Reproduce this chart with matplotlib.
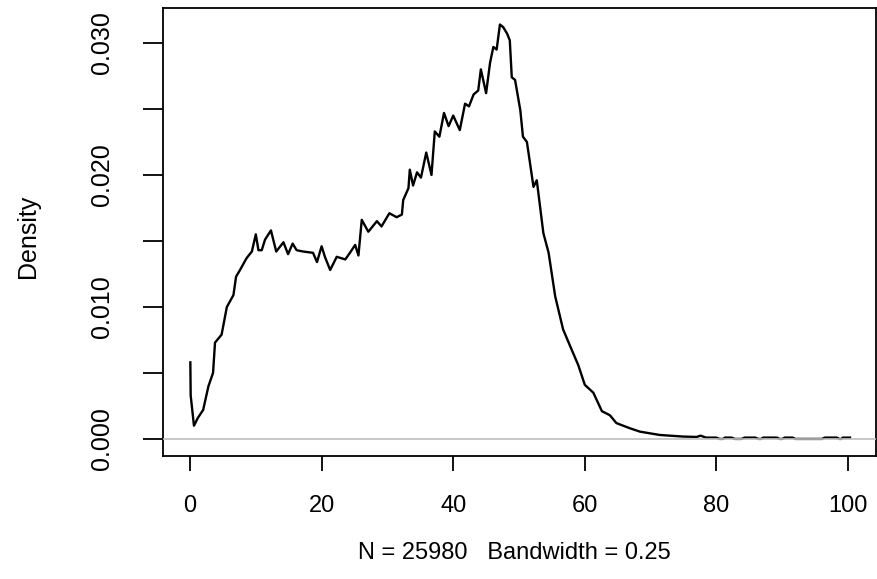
import numpy as np
import matplotlib
matplotlib.use("Agg")
from matplotlib import pyplot as plt

# density curve (x in data units, y = density)
xVals = [0.05, 0.1, 0.6, 1.2, 2.0, 2.8, 3.5, 3.8, 4.8, 5.6, 6.6, 7.0, 7.6, 8.6, 9.4,
         10.0, 10.4, 10.9, 11.4, 12.3, 13.1, 14.2, 14.9, 15.6, 16.2, 17.2, 18.7, 19.3,
         20.0, 20.5, 21.3, 22.3, 23.6, 24.3, 25.1, 25.6, 26.1, 27.1, 28.4, 29.1, 30.3,
         31.4, 32.2, 32.4, 33.2, 33.4, 33.9, 34.5, 35.1, 35.9, 36.7, 37.2, 37.9, 38.6,
         39.3, 40.0, 41.0, 41.8, 42.4, 43.1, 43.8, 44.2, 45.0, 45.6, 46.1, 46.6, 47.1,
         47.6, 48.2, 48.6, 48.9, 49.4, 50.2, 50.6, 51.2, 52.2, 52.7, 53.7, 54.5, 55.5,
         56.7, 57.8, 59.0, 60.0, 61.3, 62.6, 63.8, 64.8, 66.9, 68.4, 71.4, 74.9, 77.0]
densVals = [0.0058, 0.0033, 0.0010, 0.0016, 0.0022, 0.0040, 0.0050, 0.0073, 0.0079, 0.0100,
            0.0109, 0.0123, 0.0128, 0.0137, 0.0142, 0.0155, 0.0143, 0.0143, 0.0151, 0.0158,
            0.0142, 0.0149, 0.0140, 0.0148, 0.0143, 0.0142, 0.0141, 0.0134, 0.0146, 0.0138,
            0.0128, 0.0138, 0.0136, 0.0141, 0.0147, 0.0139, 0.0166, 0.0157, 0.0165, 0.0161,
            0.0171, 0.0168, 0.0170, 0.0181, 0.0190, 0.0204, 0.0192, 0.0202, 0.0198, 0.0217,
            0.0200, 0.0233, 0.0229, 0.0247, 0.0237, 0.0245, 0.0234, 0.0254, 0.0252, 0.0261,
            0.0264, 0.0280, 0.0262, 0.0285, 0.0297, 0.0295, 0.0314, 0.0312, 0.0307, 0.0302,
            0.0274, 0.0272, 0.0249, 0.0229, 0.0225, 0.0191, 0.0196, 0.0156, 0.0141, 0.0108,
            0.0083, 0.0070, 0.0056, 0.0041, 0.0035, 0.0021, 0.0018, 0.0012, 0.0008, 0.00055,
            0.0003, 0.00018, 0.00015]
# tail: tiny values (dashes) that come and go under the grey zero line
tailX = [77.6, 78.4, 80.0, 80.5, 81.0, 81.3, 82.3, 82.8, 83.8, 84.3, 85.9, 86.4, 86.8,
         87.1, 89.2, 89.6, 90.0, 90.4, 91.6, 92.0, 96.0, 96.5, 98.3, 98.7, 99.0, 99.2, 100.3]
tailY = [0.00025, 0.0001, 0.0001, 0.0, 0.0, 0.0001, 0.0001, 0.0, 0.0, 0.0001, 0.0001, 0.0,
         0.0, 0.0001, 0.0001, 0.0, 0.0, 0.0001, 0.0001, 0.0, 0.0, 0.0001, 0.0001, 0.0, 0.0,
         0.0001, 0.0001]

xTicks = [0, 20, 40, 60, 80, 100]
yTicks = [0.000, 0.005, 0.010, 0.015, 0.020, 0.025, 0.030]
yTickLabels = ["0.000", "", "0.010", "", "0.020", "", "0.030"]
subTitle = "N = 25980   Bandwidth = 0.25"

plt.rcParams['font.family'] = ['Liberation Sans', 'DejaVu Sans']
fsX = 17
fsY = 18

fig = plt.figure(figsize=(8.77, 5.79), dpi=100)
ax = fig.add_axes([0.1859, 0.2116, 0.8130, 0.7741])

ax.plot(xVals + tailX, densVals + tailY, color='black', lw=1.7, zorder=2)
ax.axhline(0, color='#bebebe', lw=1.2, zorder=3)

ax.set_xlim(-4.1, 104.26)
ax.set_ylim(-0.00133, 0.03263)

for s in ax.spines.values():
    s.set_linewidth(1.3)

ax.set_xticks(xTicks)
ax.set_xticklabels([str(t) for t in xTicks], fontsize=fsX)
ax.set_yticks(yTicks)
ax.set_yticklabels(yTickLabels, fontsize=fsY, rotation=90, va='center')
ax.tick_params(axis='x', length=10.8, width=1.3, pad=17)
ax.tick_params(axis='y', length=14.4, width=1.3, pad=21)

fig.text(28/877, 0.591, "Density", rotation=90, ha='center', va='center', fontsize=fsY)
fig.text(0.5867, 0.0449, subTitle, ha='center', va='center', fontsize=fsX)

fig.savefig("out.png", dpi=100)
